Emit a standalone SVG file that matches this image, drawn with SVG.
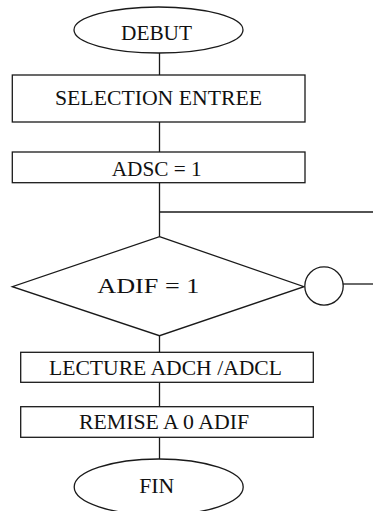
<svg xmlns="http://www.w3.org/2000/svg" width="373" height="511" viewBox="0 0 373 511">
<style>
.s{fill:#fff;stroke:#1a1a1a;stroke-width:1.3}
.c{fill:none;stroke:#1a1a1a;stroke-width:1.3}
text{font-family:"Liberation Serif","Times New Roman",serif;font-size:21px;fill:#111;text-anchor:middle}
</style>
<rect width="373" height="511" fill="#fff"/>
<g id="connectors">
<line class="c" x1="159.5" y1="53" x2="159.5" y2="75"/>
<line class="c" x1="159.5" y1="122" x2="159.5" y2="152"/>
<line class="c" x1="159.5" y1="182.7" x2="159.5" y2="236.7"/>
<line class="c" x1="159.5" y1="212" x2="373" y2="212"/>
<line class="c" x1="343" y1="284" x2="373" y2="284"/>
<line class="c" x1="159.5" y1="335.7" x2="159.5" y2="352.3"/>
<line class="c" x1="159.5" y1="382.3" x2="159.5" y2="406.7"/>
<line class="c" x1="159.5" y1="437.3" x2="159.5" y2="459"/>
</g>
<g id="debut">
<ellipse class="s" cx="158.5" cy="30" rx="84.5" ry="23"/>
<text x="156.5" y="40" textLength="71" lengthAdjust="spacingAndGlyphs">DEBUT</text>
</g>
<g id="selection">
<rect class="s" x="12.3" y="75" width="292.7" height="47"/>
<text x="158.5" y="105" textLength="207" lengthAdjust="spacingAndGlyphs">SELECTION ENTREE</text>
</g>
<g id="adsc">
<rect class="s" x="12.3" y="152" width="292.7" height="30.7"/>
<text x="156.7" y="176" textLength="90" lengthAdjust="spacingAndGlyphs">ADSC = 1</text>
</g>
<g id="adif">
<polygon class="s" points="159.5,236.7 304,286.7 159.5,335.7 12.3,286.7"/>
<text x="148.3" y="293" font-size="25" textLength="102" lengthAdjust="spacingAndGlyphs">ADIF = 1</text>
</g>
<g id="connector-circle">
<circle class="s" cx="324" cy="286" r="19.2"/>
</g>
<g id="lecture">
<rect class="s" x="20.7" y="352.3" width="292.6" height="30"/>
<text x="165.5" y="374.7" textLength="233" lengthAdjust="spacingAndGlyphs">LECTURE ADCH /ADCL</text>
</g>
<g id="remise">
<rect class="s" x="20.7" y="406.7" width="292.6" height="30.6"/>
<text x="164" y="429.3" textLength="170" lengthAdjust="spacingAndGlyphs">REMISE A 0 ADIF</text>
</g>
<g id="fin">
<ellipse class="s" cx="158.7" cy="487" rx="84.5" ry="28"/>
<text x="156.8" y="493.3" textLength="35" lengthAdjust="spacingAndGlyphs">FIN</text>
</g>
</svg>
